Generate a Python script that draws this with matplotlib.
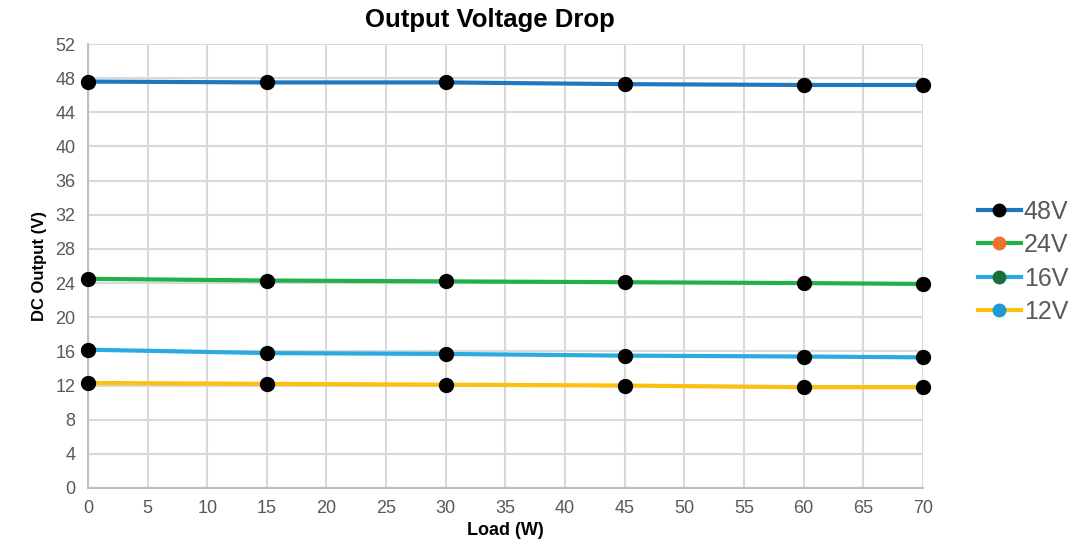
import matplotlib
matplotlib.use("Agg")
import matplotlib.pyplot as plt
from matplotlib.lines import Line2D

plt.rcParams['font.family'] = ['Liberation Sans', 'DejaVu Sans']

# data
load_w = [0, 15, 30, 45, 60, 70]
v48 = [47.6, 47.5, 47.5, 47.3, 47.2, 47.2]
v24 = [24.5, 24.3, 24.2, 24.1, 24.0, 23.9]
v16 = [16.2, 15.8, 15.7, 15.5, 15.4, 15.3]
v12 = [12.3, 12.2, 12.1, 12.0, 11.8, 11.8]

series_names = ['48V', '24V', '16V', '12V']
line_colors = ['#1f77c0', '#22b04b', '#29abe2', '#fcc010']
legend_marker_colors = ['#000000', '#f07030', '#1a6e3a', '#1e9ad6']

fig = plt.figure(figsize=(10.73, 5.48), dpi=100)
ax = fig.add_axes([0.082, 0.1095, 0.778, 0.8102])

for vals, col in zip([v48, v24, v16, v12], line_colors):
    ax.plot(load_w, vals, color=col, lw=3, zorder=3)
    ax.plot(load_w, vals, 'o', color='black', ms=10, zorder=4, clip_on=False)

ax.set_xlim(0, 70)
ax.set_ylim(0, 52)
ax.set_xticks(range(0, 71, 5))
ax.set_yticks(range(0, 53, 4))
ax.grid(True, color='#d9d9d9', lw=1.5)
ax.set_axisbelow(True)
ax.tick_params(length=0, labelsize=13, labelcolor='#595959', pad=9)
for s in ['top', 'right']:
    ax.spines[s].set_visible(False)
for s in ['left', 'bottom']:
    ax.spines[s].set_color('#bfbfbf')
    ax.spines[s].set_linewidth(1.5)

ax.set_xlabel('Load (W)', fontsize=13, fontweight='bold', labelpad=3)
ax.set_ylabel('DC Output (V)', fontsize=12, fontweight='bold', labelpad=6)
fig.text(0.457, 0.963, 'Output Voltage Drop', ha='center', va='center',
         fontsize=18.5, fontweight='bold')

handles = [Line2D([0], [0], color=lc, lw=3, marker='o', ms=9,
                  markerfacecolor=mc, markeredgecolor=mc)
           for lc, mc in zip(line_colors, legend_marker_colors)]
fig.legend(handles, series_names, loc='center left', bbox_to_anchor=(0.911, 0.522),
           frameon=False, fontsize=18, labelcolor='#595959', handlelength=1.75,
           handletextpad=0.1, labelspacing=0.38, borderpad=0, borderaxespad=0)

fig.savefig('out.png', dpi=100)
